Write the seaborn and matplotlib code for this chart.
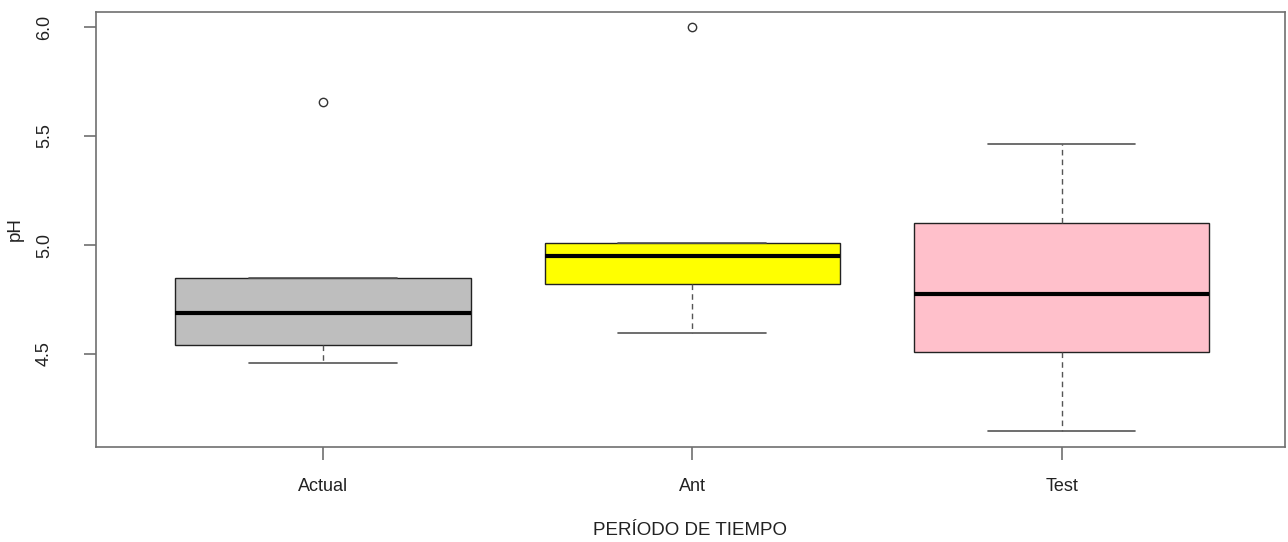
import numpy as np
import pandas as pd
import matplotlib
matplotlib.use("Agg")
import matplotlib.pyplot as plt
import seaborn as sns

# values (9 obs per group -> quartiles land on points)
periods = ["Actual", "Ant", "Test"]
ph_actual = [4.461, 4.50, 4.540, 4.62, 4.690, 4.78, 4.849, 4.849, 5.657]
ph_ant = [4.598, 4.72, 4.821, 4.90, 4.948, 4.99, 5.011, 5.011, 6.001]
ph_test = [4.145, 4.32, 4.508, 4.66, 4.775, 4.95, 5.101, 5.30, 5.462]
box_colors = ["#BEBEBE", "#FFFF00", "#FFC0CB"]

df = pd.DataFrame({
    "periodo": np.repeat(periods, [len(ph_actual), len(ph_ant), len(ph_test)]),
    "pH": ph_actual + ph_ant + ph_test,
})

sns.set_style("white")
plt.rcParams["font.family"] = ["Liberation Sans", "DejaVu Sans"]

fig = plt.figure(figsize=(12.88, 5.42), dpi=100)
ax = fig.add_axes([0.0745, 0.175, 0.9232, 0.803])

sns.boxplot(
    data=df, x="periodo", y="pH", hue="periodo", order=periods,
    palette=box_colors, saturation=1, legend=False, width=0.8, whis=1.5,
    linecolor="#222222", linewidth=1.0, ax=ax,
    medianprops={"color": "black", "linewidth": 3},
    whiskerprops={"color": "#555555", "linestyle": (0, (4, 3)), "linewidth": 1},
    capprops={"color": "#555555", "linewidth": 1.2},
    flierprops={"marker": "o", "markersize": 6, "markerfacecolor": "white",
                "markeredgecolor": "#333333", "markeredgewidth": 1},
)

ax.set_xlim(-0.615, 2.605)
ax.set_ylim(4.073, 6.069)
ax.set_yticks([4.5, 5.0, 5.5, 6.0])
ax.set_yticklabels(["4.5", "5.0", "5.5", "6.0"], rotation=90, va="center")

for s in ax.spines.values():
    s.set_visible(True)
    s.set_color("#707070")
    s.set_linewidth(1.2)

ax.tick_params(axis="both", which="major", bottom=True, left=True,
               length=9, width=1.2, color="#707070",
               labelsize=13, labelcolor="#222222", direction="out")
ax.tick_params(axis="x", pad=13)
ax.tick_params(axis="y", pad=22)

ax.set_xlabel("PERÍODO DE TIEMPO", fontsize=13.5, color="#222222", labelpad=20)
ax.set_ylabel("pH", fontsize=13.5, color="#222222", labelpad=9)

fig.savefig("out.png", dpi=100)
